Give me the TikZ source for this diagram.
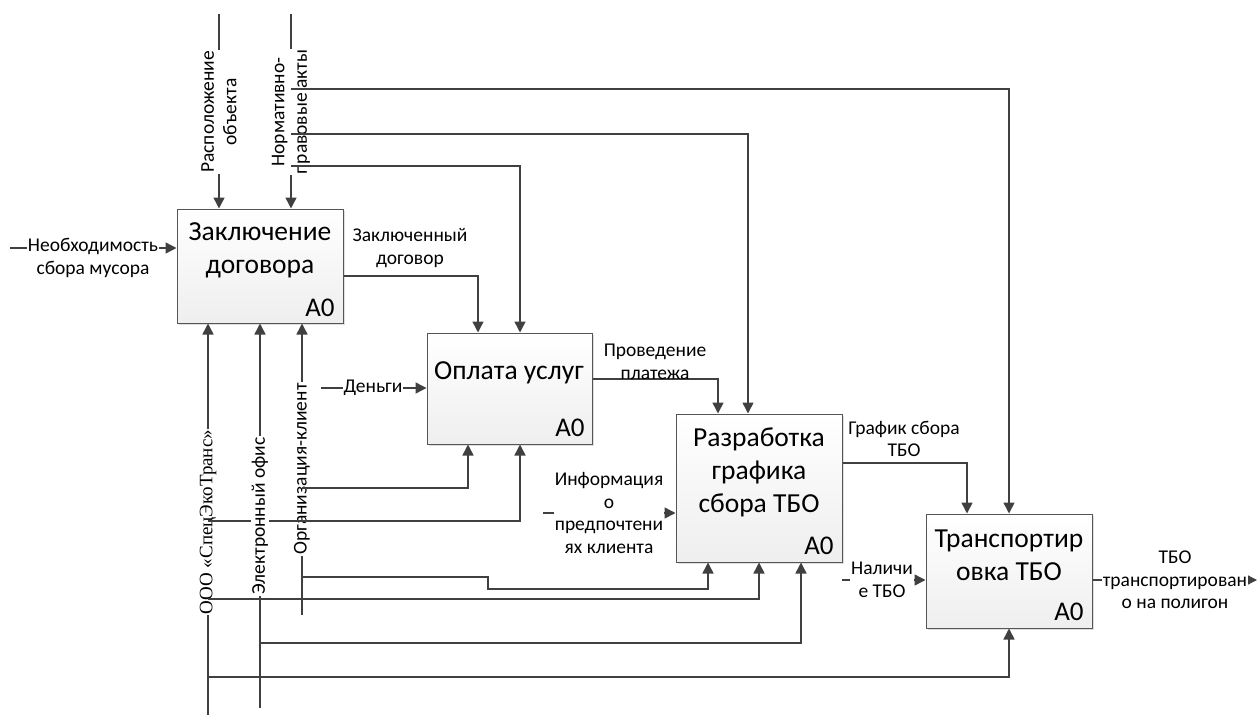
\documentclass[tikz,border=0pt]{standalone}
\usepackage{fontspec}
\setmainfont{Carlito}
\newfontfamily\serifru{Liberation Serif}
\usetikzlibrary{arrows.meta,shadows}
\definecolor{lc}{HTML}{404040}
\definecolor{bc}{HTML}{555555}
\begin{document}
\begin{tikzpicture}[x=1pt,y=-1pt,
  ln/.style={draw=lc, line width=1.5pt},
  arr/.style={ln, -{Triangle[length=11pt,width=11pt]}},
  box/.style={draw=bc, line width=1pt, top color=white, bottom color=gray!13,
    minimum width=166pt, minimum height=114pt, inner sep=0pt,
    drop shadow={shadow xshift=2pt, shadow yshift=-2pt, opacity=0.25}},
  ttl/.style={font=\fontsize{27.5}{33}\selectfont, align=center, inner sep=0pt},
  anum/.style={font=\fontsize{27}{30}\selectfont, inner sep=0pt},
  lbl/.style={font=\fontsize{19.5}{22.5}\selectfont, align=center, inner sep=1pt},
  wl/.style={lbl, fill=white}
]
\useasboundingbox (0,0) rectangle (1257,717);

% boxes
\node[box] (b1) at (260,266) {};
\node[box, minimum width=165pt, minimum height=111pt] (b2) at (509.5,388.5) {};
\node[box, minimum height=148pt] (b3) at (759,488) {};
\node[box] (b4) at (1009,571) {};

\node[ttl] (t1) at (260,250) {Заключение\\договора};
\node[ttl] (t2) at (509,373) {Оплата услуг};
\node[ttl] (t3) at (759,472) {Разработка\\графика\\сбора ТБО};
\node[ttl] (t4) at (1009,555) {Транспортир\\овка ТБО};
\node[anum] (a1) at (320,308) {A0};
\node[anum] (a2) at (570,428) {A0};
\node[anum] (a3) at (819,546) {A0};
\node[anum] (a4) at (1069,612) {A0};

% controls from top
\coordinate (rasp) at (219,14);
\coordinate (norm) at (291,14);
\draw[arr] (rasp) -- (rasp |- b1.north);
\draw[arr] (norm) -- (norm |- b1.north);
\node[wl, rotate=90] (lrasp) at (219,112) {Расположение\\объекта};
\node[wl, rotate=90] (lnorm) at (291,112) {Нормативно-\\правовые акты};
\draw[arr] (291,89) -| (b4.north);
\draw[arr] (291,134) -| (748,0 |- b3.north);
\draw[arr] (291,166) -| (520,0 |- b2.north);

% inputs
\draw[arr] (10,248) -- (b1.west |- 10,248);
\node[wl] (lneed) at (93,258) {Необходимость\\сбора мусора};
\draw[arr] (321,388) -- (b2.west |- 321,388);
\node[wl] (lmoney) at (373,388) {Деньги};
\draw[arr] (543,513) -- (b3.west |- 543,513);
\node[wl] (linfo) at (609,513) {Информация\\о\\предпочтени\\ях клиента};
\draw[arr] (842,580) -- (b4.west |- 842,580);
\node[wl] (lnal) at (882,580) {Наличи\\е ТБО};
\draw[arr] (b4.east |- 0,580) -- (1257,580);
\node[wl] (lout) at (1175,580) {ТБО\\транспортирован\\о на полигон};

% outputs between boxes
\draw[arr] (b1.east |- 0,276) -| (478,0 |- b2.north);
\node[lbl] (lzak) at (410,248) {Заключенный\\договор};
\draw[arr] (b2.east |- 0,379) -| (718,0 |- b3.north);
\node[lbl] (lpro) at (655,362) {Проведение\\платежа};
\draw[arr] (b3.east |- 0,463) -| (967,0 |- b4.north);
\node[lbl] (lgr) at (904,439) {График сбора\\ТБО};

% mechanisms
\coordinate (ooo) at (208,715);
\coordinate (el) at (260,708);
\coordinate (org) at (302,615);
\draw[arr] (ooo) -- (ooo |- b1.south);
\draw[arr] (el) -- (el |- b1.south);
\draw[arr] (org) -- (org |- b1.south);
\node[wl, rotate=90, font=\serifru\fontsize{19}{22}\selectfont] (looo) at (208,522) {ООО «СпецЭкоТранс»};
\node[wl, rotate=90] (lorg) at (302,469) {Организация-клиент};
\draw[arr] (302,488) -| (468,0 |- b2.south);
\draw[arr] (208,521) -| (520,0 |- b2.south);
\draw[arr] (302,577) -- (488,577) -- (488,589) -| (708,0 |- b3.south);
\draw[arr] (208,599) -| (759,0 |- b3.south);
\draw[arr] (260,643) -| (801,0 |- b3.south);
\draw[arr] (208,677) -| (b4.south);
\node[wl, rotate=90] (lel) at (260,516) {Электронный офис};
\end{tikzpicture}
\end{document}
